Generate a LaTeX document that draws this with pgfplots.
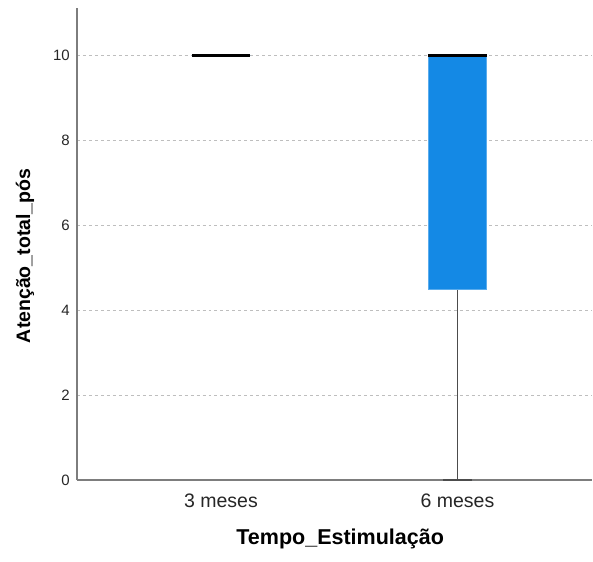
\documentclass[border=0pt]{standalone}
\usepackage{fontspec}
\setmainfont{Liberation Sans}
\usepackage{pgfplots}
\pgfplotsset{compat=1.18}
\usepgfplotslibrary{statistics}
\definecolor{boxblue}{RGB}{20,137,229}
\definecolor{axgray}{RGB}{125,125,125}
\definecolor{gridgray}{RGB}{190,190,190}
\begin{document}
\begin{tikzpicture}
\path[use as bounding box] (-77bp,-82bp) rectangle (516bp,480bp);
\begin{axis}[
  at={(0,0)}, anchor=south west,
  scale only axis,
  width=515bp, height=472bp,
  xmin=0.391, xmax=2.569,
  ymin=0, ymax=11.106,
  axis x line*=bottom, axis y line*=left,
  axis line style={draw=axgray, line width=1.2pt, -},
  xtick={1,2}, xticklabels={3 meses,6 meses},
  ytick={0,2,4,6,8,10},
  major tick length=0pt,
  ymajorgrids,
  grid style={draw=gridgray, dash pattern=on 3pt off 3pt, line width=0.8pt},
  /pgf/number format/assume math mode=true,
  yticklabel style={font=\fontsize{15bp}{15bp}\selectfont, color=black!85, anchor=east, inner sep=0pt, xshift=-7bp},
  xticklabel style={font=\fontsize{19.5bp}{19.5bp}\selectfont, color=black!85, anchor=north, inner sep=0pt, yshift=-14bp},
  xlabel={Tempo\_Estimulação},
  ylabel={Atenção\_total\_pós},
  xlabel style={font=\bfseries\fontsize{21.5bp}{21.5bp}\selectfont, at={(axis description cs:0.511,-0.1377)}, anchor=base, inner sep=0pt},
  ylabel style={font=\bfseries\fontsize{19.5bp}{19.5bp}\selectfont, at={(axis description cs:-0.0912,0.475)}, anchor=base, inner sep=0pt},
  boxplot/draw direction=y,
  boxplot/every median/.style={draw=black, line width=3bp},
  boxplot/every whisker/.style={draw=black!70, line width=1.5bp},
  clip=false,
]
\addplot[boxplot/draw direction=y, boxplot prepared={draw position=1, lower whisker=10, lower quartile=10, median=10, upper quartile=10, upper whisker=10, box extend=0.247, whisker extend=0.123}, fill=boxblue, draw=boxblue] coordinates {};
\addplot[boxplot/draw direction=y, boxplot prepared={draw position=2, lower whisker=0, lower quartile=4.5, median=10, upper quartile=10, upper whisker=10, box extend=0.247, whisker extend=0.123}, fill=boxblue, draw=boxblue!70!white] coordinates {};
\end{axis}
\end{tikzpicture}
\end{document}
